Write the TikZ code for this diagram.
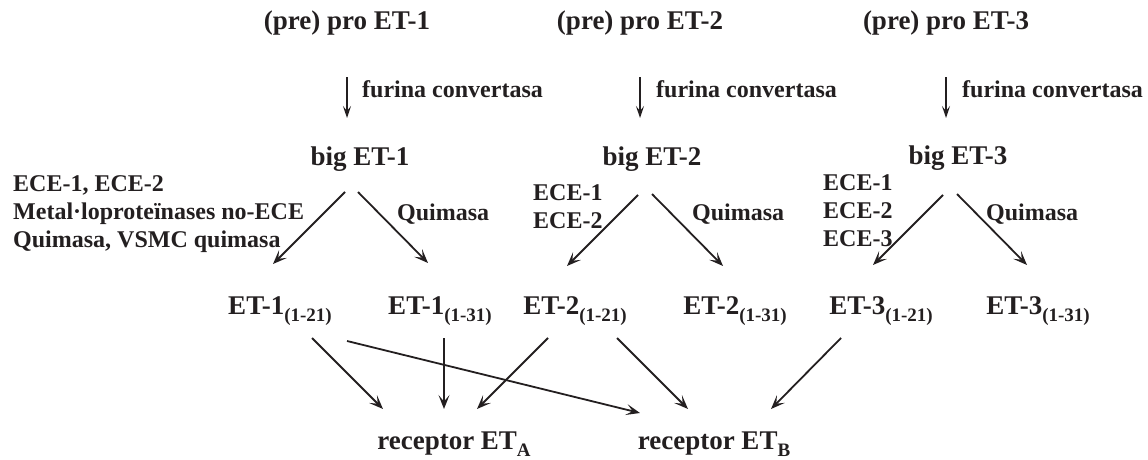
\documentclass[tikz,border=0pt]{standalone}
\usepackage{fontspec}
\setmainfont{Liberation Serif}
\usetikzlibrary{arrows.meta}
\definecolor{ink}{HTML}{231F20}
\newcommand\lowsub[1]{\raisebox{-0.26em}{\fontsize{19}{19}\selectfont #1}}
\begin{document}
\begin{tikzpicture}[x=1pt,y=1pt,
  every node/.style={inner sep=0pt, text=ink, font=\bfseries},
  mainlbl/.style={anchor=base, font=\fontsize{27}{30}\selectfont\bfseries},
  smalllbl/.style={anchor=base west, font=\fontsize{24}{28}\selectfont\bfseries},
  arr/.style={draw=ink, line width=1.8pt, -{Stealth[length=14pt,width=11pt,inset=6.5pt]}},
  arrthin/.style={draw=ink, line width=1.5pt, -{Stealth[length=12pt,width=8pt,inset=5pt]}}
]
\useasboundingbox (0,0) rectangle (1148,-460);

% titles
\node[mainlbl] (t1) at (347,-30) {(pre) pro ET-1};
\node[mainlbl] (t2) at (640,-30) {(pre) pro ET-2};
\node[mainlbl] (t3) at (946,-30) {(pre) pro ET-3};

% big ET
\node[mainlbl] (big1) at (360,-165) {big ET-1};
\node[mainlbl] (big2) at (652,-165) {big ET-2};
\node[mainlbl] (big3) at (958,-164) {big ET-3};

% furina
\node[smalllbl] (f1) at (362,-97) {furina convertasa};
\node[smalllbl] (f2) at (656,-97) {furina convertasa};
\node[smalllbl] (f3) at (962,-97) {furina convertasa};

\draw[arrthin] ([yshift=-47pt]t1.base) -- ([shift={(-13pt,47pt)}]big1.base);
\draw[arrthin] ([yshift=-47pt]t2.base) -- ([shift={(-12pt,47pt)}]big2.base);
\draw[arrthin] ([yshift=-47pt]t3.base) -- ([shift={(-12pt,46pt)}]big3.base);

% enzyme labels
\node[smalllbl] (e1a) at (13,-191) {ECE-1, ECE-2};
\node[smalllbl] (e1b) at (13,-219) {Metal·loproteïnases no-ECE};
\node[smalllbl] (e1c) at (13,-247) {Quimasa, VSMC quimasa};
\node[smalllbl] (q1) at (397,-220) {Quimasa};

\node[smalllbl] (e2a) at (533,-200) {ECE-1};
\node[smalllbl] (e2b) at (533,-228) {ECE-2};
\node[smalllbl] (q2) at (692,-220) {Quimasa};

\node[smalllbl] (e3a) at (823,-190) {ECE-1};
\node[smalllbl] (e3b) at (823,-218) {ECE-2};
\node[smalllbl] (e3c) at (823,-246) {ECE-3};
\node[smalllbl] (q3) at (986,-220) {Quimasa};

% ET peptides
\node[mainlbl] (et1a) at (280,-314) {ET-1\lowsub{(1-21)}};
\node[mainlbl] (et1b) at (440,-314) {ET-1\lowsub{(1-31)}};
\node[mainlbl] (et2a) at (575,-314) {ET-2\lowsub{(1-21)}};
\node[mainlbl] (et2b) at (735,-314) {ET-2\lowsub{(1-31)}};
\node[mainlbl] (et3a) at (881,-314) {ET-3\lowsub{(1-21)}};
\node[mainlbl] (et3b) at (1038,-314) {ET-3\lowsub{(1-31)}};

% receptors
\node[mainlbl] (ra) at (454,-449) {receptor ET\lowsub{A}};
\node[mainlbl] (rb) at (714,-449) {receptor ET\lowsub{B}};

% big -> ET
\draw[arr] ([shift={(-15pt,-27pt)}]big1.base) -- ([shift={(-7pt,50pt)}]et1a.base);
\draw[arr] ([shift={(-2pt,-27pt)}]big1.base) -- ([shift={(-12pt,51pt)}]et1b.base);
\draw[arr] ([shift={(-14pt,-30pt)}]big2.base) -- ([shift={(-8pt,48pt)}]et2a.base);
\draw[arr] ([shift={(0pt,-29pt)}]big2.base) -- ([shift={(-12pt,48pt)}]et2b.base);
\draw[arr] ([shift={(-15pt,-31pt)}]big3.base) -- ([shift={(-8pt,49pt)}]et3a.base);
\draw[arr] ([shift={(-1pt,-30pt)}]big3.base) -- ([shift={(-11pt,49pt)}]et3b.base);

% ET -> receptors
\draw[arr] ([shift={(32pt,-24pt)}]et1a.base) -- ([shift={(-71pt,40pt)}]ra.base);
\draw[arr] ([shift={(67pt,-27pt)}]et1a.base) -- ([shift={(-74pt,36pt)}]rb.base);
\draw[arr] ([shift={(4pt,-24pt)}]et1b.base) -- ([shift={(-10pt,40pt)}]ra.base);
\draw[arr] ([shift={(-27pt,-24pt)}]et2a.base) -- ([shift={(23pt,40pt)}]ra.base);
\draw[arr] ([shift={(42pt,-24pt)}]et2a.base) -- ([shift={(-26pt,40pt)}]rb.base);
\draw[arr] ([shift={(-40pt,-24pt)}]et3a.base) -- ([shift={(57pt,40pt)}]rb.base);
\end{tikzpicture}
\end{document}
